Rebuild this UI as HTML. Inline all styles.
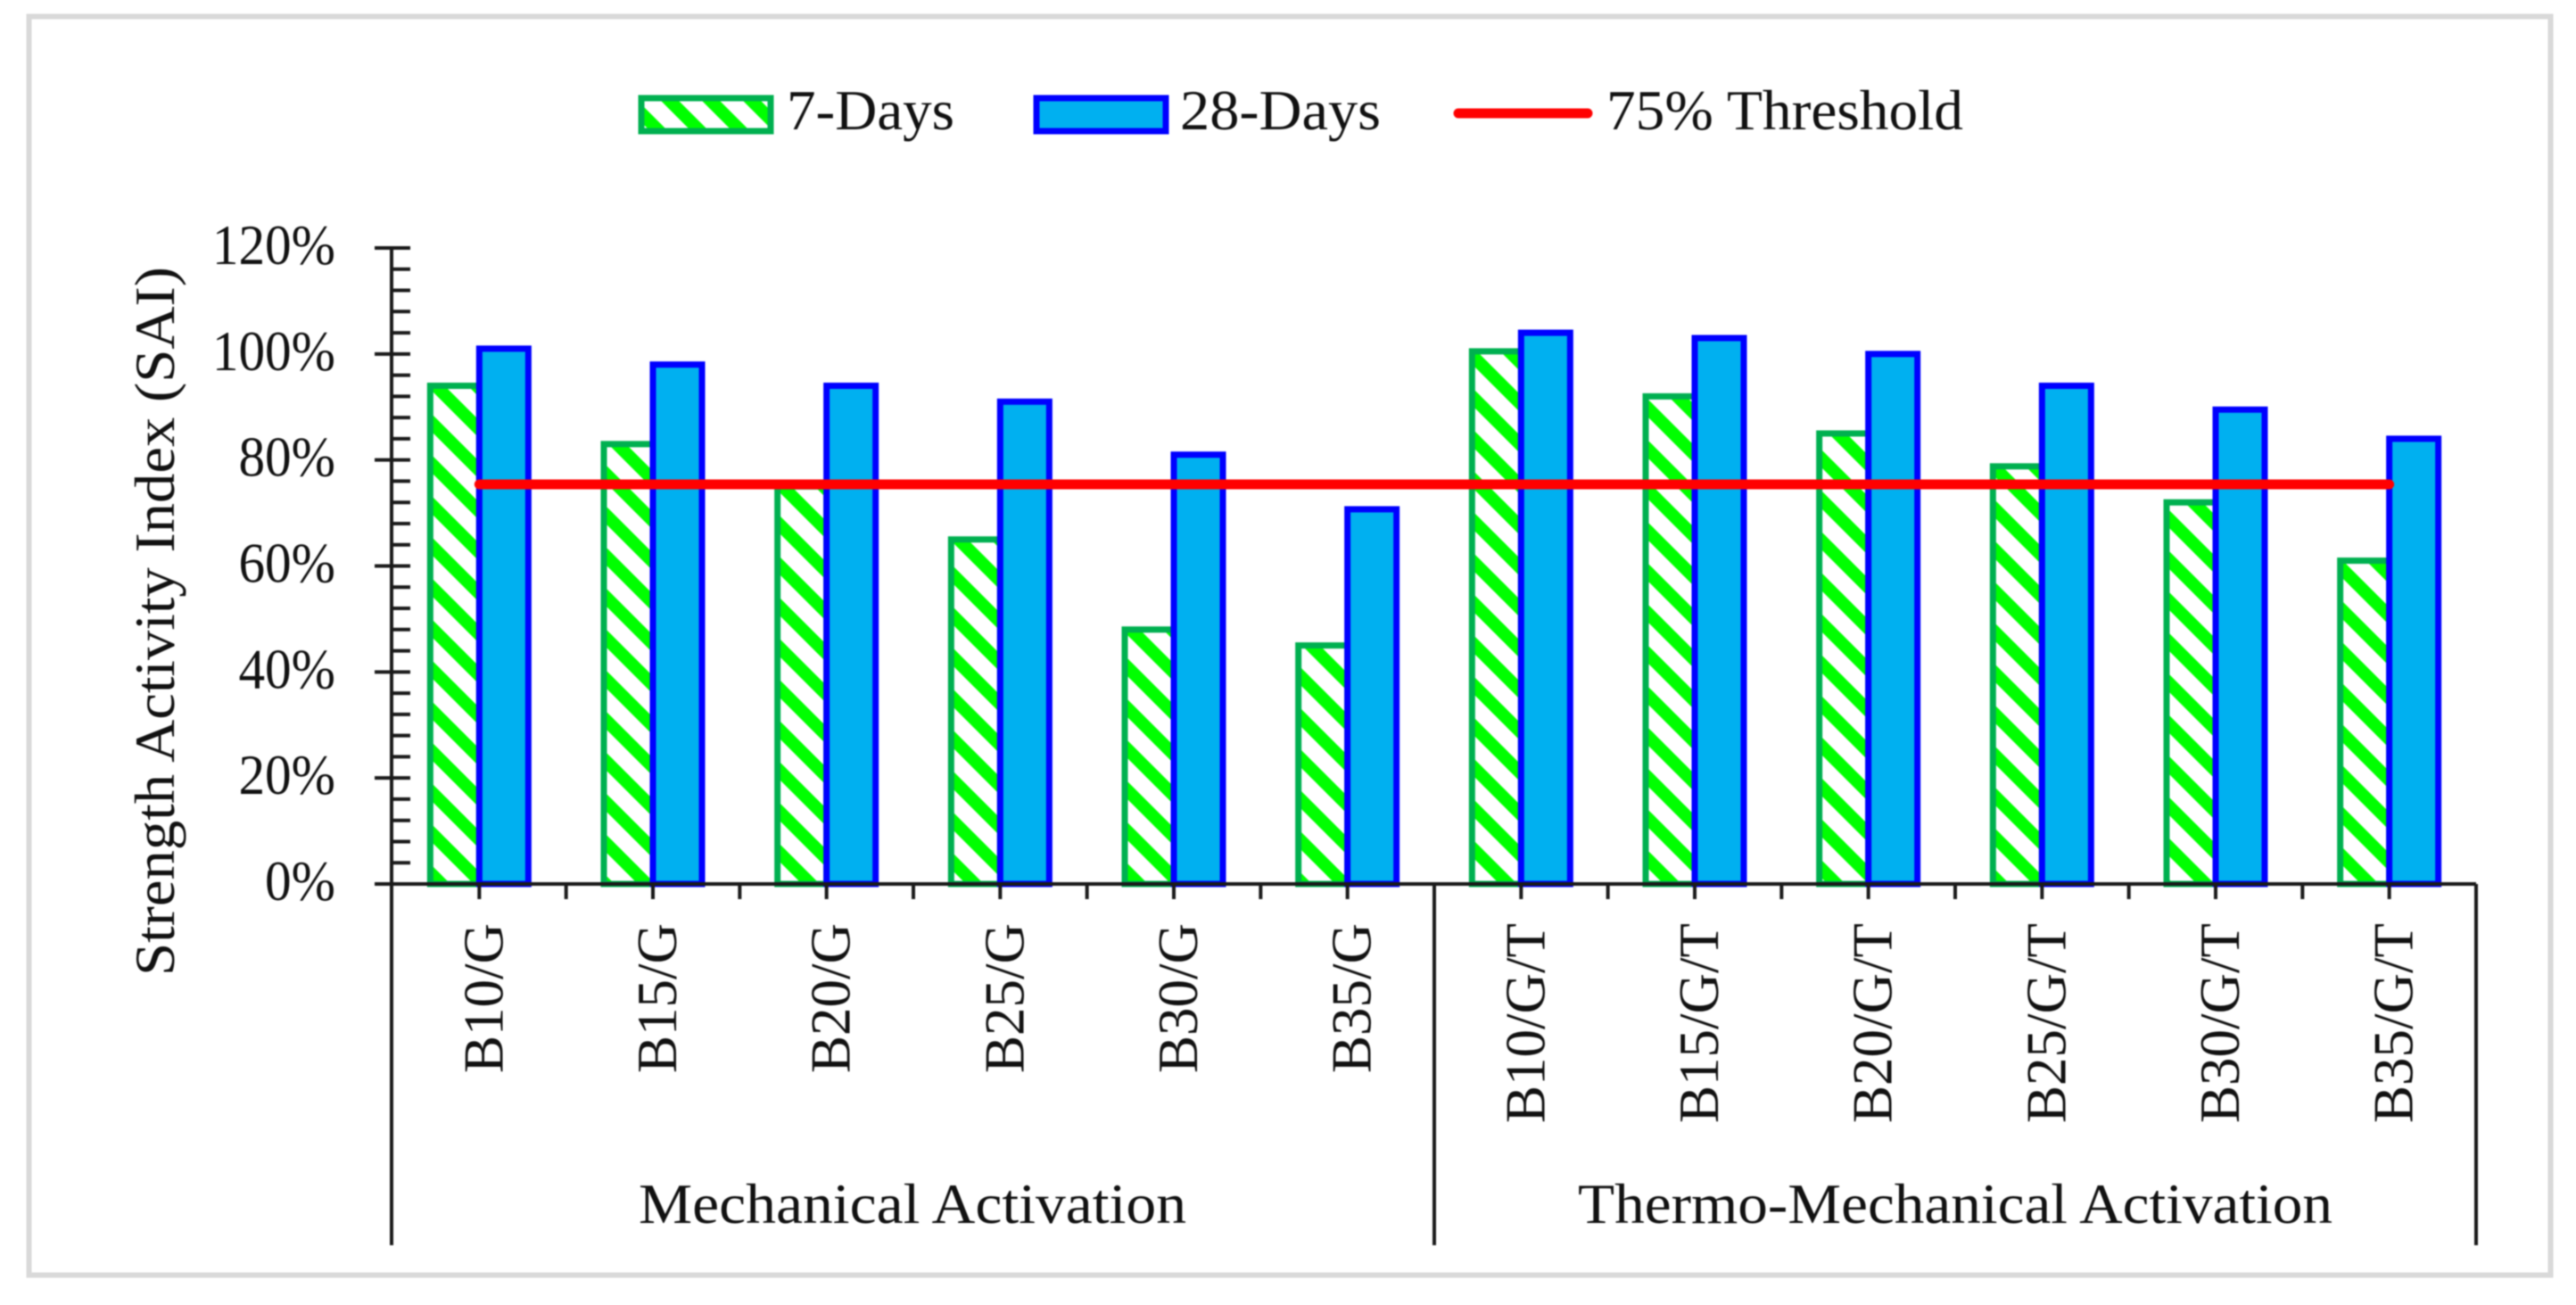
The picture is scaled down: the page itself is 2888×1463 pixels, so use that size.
<!DOCTYPE html>
<html lang="en">
<head>
<meta charset="utf-8">
<title>Strength Activity Index chart</title>
<style>
  html, body { margin: 0; padding: 0; background: #ffffff; }
  svg { display: block; filter: blur(0.7px); }
  text { font-family: "Liberation Serif", serif; fill: #111111; font-size: 63px; }
</style>
</head>
<body>
<svg id="chart" xmlns="http://www.w3.org/2000/svg" width="2888" height="1463" viewBox="0 0 2888 1463">
  <defs>
    <pattern id="hatch" patternUnits="userSpaceOnUse" x="0" y="0" width="46" height="46">
      <rect width="46" height="46" fill="#ffffff"/>
      <polygon points="0,26 20,46 0,46" fill="#00ff00"/>
      <polygon points="20,0 46,26 46,46 0,0" fill="#00ff00"/>
    </pattern>
    <pattern id="hatch-legend" patternUnits="userSpaceOnUse" x="0" y="16" width="46" height="46">
      <rect width="46" height="46" fill="#ffffff"/>
      <polygon points="0,26 20,46 0,46" fill="#00ff00"/>
      <polygon points="20,0 46,26 46,46 0,0" fill="#00ff00"/>
    </pattern>
  </defs>
  <rect width="2888" height="1463" fill="#ffffff"/>
  <rect x="32.5" y="18.5" width="2827" height="1411" fill="#ffffff" stroke="#d9d9d9" stroke-width="6"/>

  <g>
    <g>
      <rect x="719" y="110" width="145" height="37" fill="url(#hatch-legend)" stroke="#00b050" stroke-width="7"/>
      <text x="882" y="145" textLength="188" lengthAdjust="spacingAndGlyphs">7-Days</text>
    </g>
    <g>
      <rect x="1162" y="110" width="145" height="37" fill="#00b0f0" stroke="#0000ff" stroke-width="7"/>
      <text x="1323" y="145" textLength="225" lengthAdjust="spacingAndGlyphs">28-Days</text>
    </g>
    <g>
      <line x1="1635" y1="127" x2="1780" y2="127" stroke="#ff0000" stroke-width="11" stroke-linecap="round"/>
      <text x="1801" y="145" textLength="400" lengthAdjust="spacingAndGlyphs">75% Threshold</text>
    </g>
  </g>

  <g id="bars7"></g>
  <g id="bars28"></g>
  <g id="thresholdLayer"></g>
  <g id="yAxis"></g>
  <g id="xAxis"></g>

  <text transform="translate(195 1094) rotate(-90)" textLength="795" lengthAdjust="spacingAndGlyphs">Strength Activity Index (SAI)</text>
  <text x="716" y="1371" textLength="614" lengthAdjust="spacingAndGlyphs">Mechanical Activation</text>
  <text x="1769" y="1371" textLength="846" lengthAdjust="spacingAndGlyphs">Thermo-Mechanical Activation</text>
</svg>

<script>
const categories = ['B10/G','B15/G','B20/G','B25/G','B30/G','B35/G','B10/G/T','B15/G/T','B20/G/T','B25/G/T','B30/G/T','B35/G/T'];
const days7 = [94, 83, 75, 65, 48, 45, 100.5, 92, 85, 78.8, 72, 61];
const days28 = [101, 98, 94, 91, 81, 70.7, 104, 103, 100, 94, 89.5, 84];
const thresholdValue = [75.4];
const yTickLabels = ['0%','20%','40%','60%','80%','100%','120%'];
const yTickValues = [0, 20, 40, 60, 80, 100, 120];
const yMinorStep = [4];

const NS = 'http://www.w3.org/2000/svg';
const PLOT_LEFT = 440, PLOT_RIGHT = 2776, PLOT_BOTTOM = 991, PLOT_TOP = 278, AXIS_BOTTOM = 1396;
const yMax = yTickValues[yTickValues.length - 1];
const BAR_W = 55;

function yScale(v) {
  return PLOT_BOTTOM - (v / yMax) * (PLOT_BOTTOM - PLOT_TOP);
}
function bandWidth() {
  return (PLOT_RIGHT - PLOT_LEFT) / categories.length;
}
function xCenter(i) {
  return PLOT_LEFT + (i + 0.5) * bandWidth();
}
function make(tag, attrs) {
  const el = document.createElementNS(NS, tag);
  for (const k in attrs) el.setAttribute(k, attrs[k]);
  return el;
}
function axisLine(parent, x1, y1, x2, y2) {
  const l = make('line', { x1: x1, y1: y1, x2: x2, y2: y2, stroke: '#1a1a1a', 'stroke-width': 4 });
  parent.appendChild(l);
  return l;
}

const bars7 = document.getElementById('bars7');
const bars28 = document.getElementById('bars28');
const thresholdLayer = document.getElementById('thresholdLayer');
const yAxis = document.getElementById('yAxis');
const xAxis = document.getElementById('xAxis');

categories.forEach(function (cat, i) {
  const c = xCenter(i);
  const g = make('rect', {
    x: c - BAR_W, y: yScale(days7[i]), width: BAR_W, height: PLOT_BOTTOM - yScale(days7[i]),
    fill: 'url(#hatch)', stroke: '#00b050', 'stroke-width': 7
  });
  
  
  bars7.appendChild(g);

  const b = make('rect', {
    x: c, y: yScale(days28[i]), width: BAR_W, height: PLOT_BOTTOM - yScale(days28[i]),
    fill: '#00b0f0', stroke: '#0000ff', 'stroke-width': 7
  });
  
  
  bars28.appendChild(b);
});

const tLine = make('line', {
  x1: xCenter(0), y1: yScale(thresholdValue[0]),
  x2: xCenter(categories.length - 1), y2: yScale(thresholdValue[0]),
  stroke: '#ff0000', 'stroke-width': 11, 'stroke-linecap': 'round'
});


thresholdLayer.appendChild(tLine);

/* y axis */
const yLine = axisLine(yAxis, PLOT_LEFT - 1, PLOT_TOP - 2, PLOT_LEFT - 1, AXIS_BOTTOM);



for (let v = 0; v <= yMax; v += yMinorStep[0]) {
  const major = yTickValues.indexOf(v) !== -1;
  const t = axisLine(yAxis, major ? PLOT_LEFT - 20 : PLOT_LEFT, yScale(v), PLOT_LEFT + 20, yScale(v));
  
  
}
yTickValues.forEach(function (v, i) {
  const lab = make('text', { x: 376, y: yScale(v) + 18, 'text-anchor': 'end' });
  lab.textContent = yTickLabels[i];
  
  
  yAxis.appendChild(lab);
  lab.setAttribute('textLength', lab.getComputedTextLength() * 0.94);
  lab.setAttribute('lengthAdjust', 'spacingAndGlyphs');
});

/* x axis */
const xLine = axisLine(xAxis, PLOT_LEFT, PLOT_BOTTOM, PLOT_RIGHT, PLOT_BOTTOM);



const divider = axisLine(xAxis, PLOT_LEFT + bandWidth() * categories.length / 2, PLOT_BOTTOM, PLOT_LEFT + bandWidth() * categories.length / 2, AXIS_BOTTOM);



const rightEdge = axisLine(xAxis, PLOT_RIGHT, PLOT_BOTTOM, PLOT_RIGHT, AXIS_BOTTOM);



categories.forEach(function (cat, i) {
  const c = xCenter(i);
  const t1 = axisLine(xAxis, c, PLOT_BOTTOM, c, PLOT_BOTTOM + 17);
  
  
  if (i > 0) {
    const bx = PLOT_LEFT + i * bandWidth();
    const t2 = axisLine(xAxis, bx, PLOT_BOTTOM, bx, PLOT_BOTTOM + 17);
    
    
  }
  const lab = make('text', {
    transform: 'translate(' + (c + 26) + ' 1035) rotate(-90)',
    'text-anchor': 'end'
  });
  lab.textContent = cat;
  
  
  xAxis.appendChild(lab);
});
</script>
</body>
</html>
